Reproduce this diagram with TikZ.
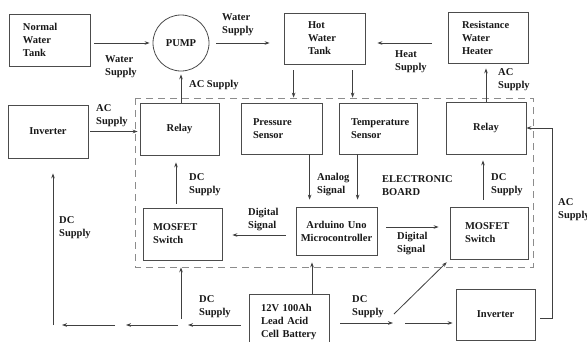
\documentclass[tikz,border=0pt]{standalone}
\usepackage{fontspec}
\setmainfont{Liberation Serif}
\usetikzlibrary{arrows.meta,calc}
\begin{document}
\begin{tikzpicture}[x=1pt,y=-1pt,
  every node/.style={font=\fontsize{10.5}{13}\selectfont\bfseries, text=black!90},
  box/.style={draw=black!70, line width=0.8pt, inner ysep=0pt, align=left},
  cbox/.style={draw=black!70, line width=0.8pt, inner ysep=0pt, align=center},
  lbl/.style={anchor=west, align=left, inner sep=0pt},
  arr/.style={draw=black!75, line width=0.8pt, -{Stealth[length=5pt,width=3.6pt]}},
  board/.style={draw=black!45, line width=1pt, dash pattern=on 7pt off 5pt}]
\clip (0,0) rectangle (587,341);
\useasboundingbox (0,0) rectangle (587,341);
\fill[white] (0,0) rectangle (587,341);
% boxes
\node[box, minimum height=52pt, inner xsep=14pt, text width=53pt] (nwt) at (49.5,40) {Normal\\Water\\Tank};
\node[circle, draw=black!70, line width=0.8pt, minimum size=56pt, inner sep=0pt] (pump) at (181,43) {PUMP};
\node[box, minimum height=51pt, inner xsep=24pt, text width=33pt] (hot) at (324.5,38.5) {Hot\\Water\\Tank};
\node[box, minimum height=51pt, inner xsep=14pt, text width=52pt] (heater) at (488,37.5) {Resistance\\Water\\Heater};
\node[cbox, minimum width=80pt, minimum height=53pt] (invL) at (48,131.5) {Inverter};
\node[cbox, minimum width=79pt, minimum height=52pt] (relayL) at (179.5,129) {Relay};
\node[box, minimum height=51pt, inner xsep=12pt, text width=57pt] (press) at (281.5,128.5) {Pressure\\Sensor};
\node[box, minimum height=51pt, inner xsep=12pt, text width=54pt] (temp) at (378,128.5) {Temperature\\Sensor};
\node[cbox, minimum width=80pt, minimum height=52pt] (relayR) at (486,128) {Relay};
\node[cbox, minimum width=81pt, minimum height=48pt, text width=77pt, inner xsep=2pt] (arduino) at (336.5,231) {Arduino Uno\\Microcontroller};
\node[box, minimum height=52pt, inner xsep=10pt, text width=59pt] (mosfetL) at (182.5,234) {MOSFET\\Switch};
\node[box, minimum height=52pt, inner xsep=15pt, text width=48pt] (mosfetR) at (489,233) {MOSFET\\Switch};
\node[box, minimum height=56pt, inner xsep=12pt, text width=56pt] (battery) at (289,322) {12V 100Ah\\Lead Acid\\Cell Battery};
\node[cbox, minimum width=79pt, minimum height=51pt] (invR) at (495.5,314.5) {Inverter};
% electronic board
\draw[board] (135,98) rectangle (533,267);
% labels
\node[lbl] (l1) at (105,66.5) {Water\\Supply};
\node[lbl] (l2) at (222,25) {Water\\Supply};
\node[lbl] (l3) at (189,85) {AC Supply};
\node[lbl] (l4) at (395,62) {Heat\\Supply};
\node[lbl] (l5) at (498,80) {AC\\Supply};
\node[lbl] (l6) at (96,115.5) {AC\\Supply};
\node[lbl] (l7) at (189,184.5) {DC\\Supply};
\node[lbl] (l8) at (317,184.5) {Analog\\Signal};
\node[lbl] (l9) at (382,185.5) {ELECTRONIC\\BOARD};
\node[lbl] (l10) at (491,185) {DC\\Supply};
\node[lbl] (l11) at (558,209.5) {AC\\Supply};
\node[lbl] (l12) at (248,220) {Digital\\Signal};
\node[lbl] (l13) at (397,244) {Digital\\Signal};
\node[lbl] (l14) at (59,228) {DC\\Supply};
\node[lbl] (l15) at (199,307) {DC\\Supply};
\node[lbl] (l16) at (352,307) {DC\\Supply};
% connectors top
\draw[arr, shorten <=4pt, shorten >=3pt] (nwt.east |- pump) -- (pump.west);
\draw[arr, shorten <=7pt, shorten >=14pt] (pump.east) -- (pump.east -| hot.west);
\draw[arr, shorten <=16pt, shorten >=12pt] (heater.west |- pump) -- (hot.east |- pump);
\draw[arr, shorten >=3pt] (relayL.north -| pump) -- (pump.south);
\draw[arr, shorten >=5pt] (relayR.north) -- (heater.south -| relayR.north);
\draw[arr, shorten <=6pt, shorten >=5pt] ([xshift=10pt]hot.south west) -- ([xshift=10pt]hot.south west |- press.north);
\draw[arr, shorten <=6pt, shorten >=5pt] ([xshift=14pt]temp.north west |- hot.south) -- ([xshift=14pt]temp.north west);
% board internal
\draw[arr, shorten >=7pt] ([xshift=14pt]arduino.north west |- press.south) -- ([xshift=14pt]arduino.north west);
\draw[arr, shorten >=7pt] ([xshift=19pt]temp.south west) -- ([xshift=19pt]temp.south west |- arduino.north);
\draw[arr, shorten <=9pt, shorten >=11pt] ([yshift=4pt]arduino.east) -- ([yshift=4pt]arduino.east -| mosfetR.west);
\draw[arr, shorten <=10pt, shorten >=10pt] ([yshift=-4pt]arduino.west) -- ([yshift=-4pt]arduino.west -| mosfetL.east);
\draw[arr, shorten <=4pt, shorten >=7pt] ([xshift=-6.5pt]mosfetL.north) -- ([xshift=-6.5pt]mosfetL.north |- relayL.south);
\draw[arr, shorten <=7pt, shorten >=6pt] ([xshift=-6pt]mosfetR.north) -- ([xshift=-6pt]mosfetR.north |- relayR.south);
\draw[arr, shorten <=2pt, shorten >=2pt] (invL.east) -- (invL.east -| relayL.west);
\draw[arr, shorten <=5pt] ([yshift=-3.5pt]invR.east) -- ++(17,0) |- (relayR.east);
\draw[arr, shorten >=7pt] ([xshift=23pt]battery.north) -- ([xshift=23pt]battery.north |- arduino.south);
% battery outputs
\coordinate (bL) at ([yshift=-3pt]battery.west);
\coordinate (m1) at (181,325);
\coordinate (m2) at (121,325);
\coordinate (dl) at (53,325);
\draw[arr, shorten <=8pt, shorten >=7pt] (bL) -- (m1);
\draw[arr, shorten <=3pt, shorten >=5pt] (m1) -- (m2);
\draw[arr, shorten <=6pt, shorten >=9pt] (m2) -- (dl);
\draw[arr, shorten <=6pt, shorten >=7pt] (m1) -- (m1 |- mosfetL.south);
\draw[arr, shorten >=15pt] (dl) -- (dl |- invL.south);
\coordinate (bR) at ([yshift=-1pt]battery.east);
\coordinate (r1) at (399,323);
\coordinate (d0) at (394,314);
\draw[arr, shorten <=11pt, shorten >=6pt] (bR) -- (r1);
\draw[arr, shorten <=6pt, shorten >=3pt] (r1) -- (r1 -| invR.west);
\draw[arr, shorten >=4pt] (d0) -- (mosfetR.south west);
\end{tikzpicture}
\end{document}
